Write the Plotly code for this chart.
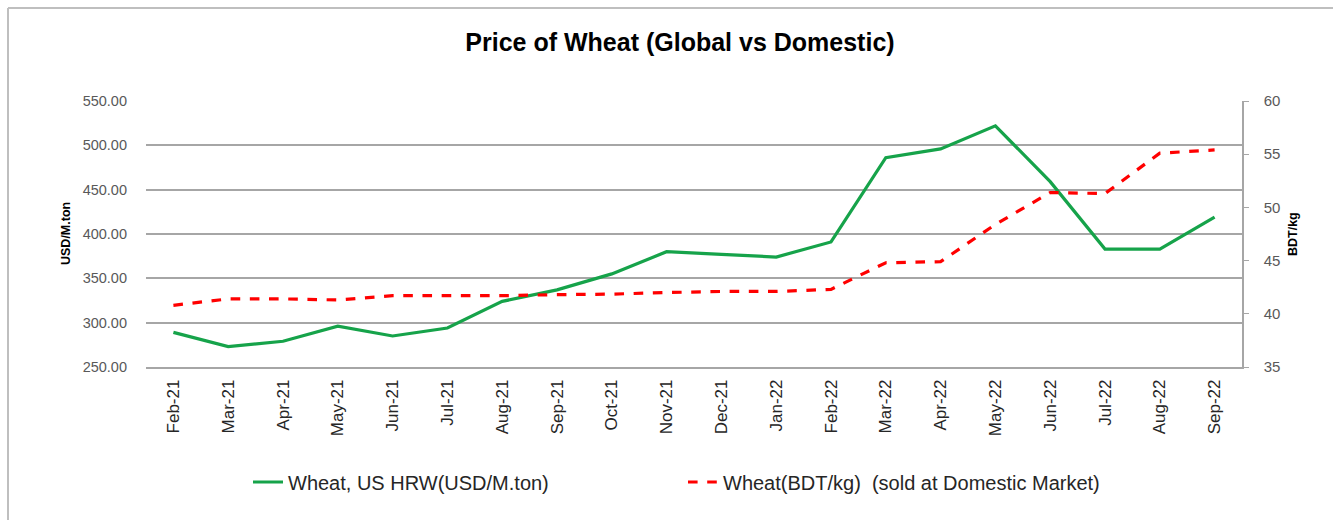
import plotly.graph_objects as go

months = ["Feb-21", "Mar-21", "Apr-21", "May-21", "Jun-21", "Jul-21", "Aug-21", "Sep-21",
          "Oct-21", "Nov-21", "Dec-21", "Jan-22", "Feb-22", "Mar-22", "Apr-22", "May-22",
          "Jun-22", "Jul-22", "Aug-22", "Sep-22"]
global_usd = [289, 273, 279, 296, 285, 294, 324, 337, 355, 380, 377, 374, 391, 486, 496, 522,
              459, 383, 383, 419]
domestic_bdt = [40.8, 41.4, 41.4, 41.3, 41.7, 41.7, 41.7, 41.8, 41.85, 42.0, 42.1, 42.1, 42.3,
                44.8, 44.9, 48.4, 51.4, 51.3, 55.1, 55.4]

name_global = "Wheat, US HRW(USD/M.ton)"
name_dom = "Wheat(BDT/kg)  (sold at Domestic Market)"

W, H = 1333, 520
L, R, T, B = 146, 91, 101, 153
pw, ph = W - L - R, H - T - B

def px_x(p):
    return (p - L) / pw

def px_y(p):
    return (H - B - p) / ph

fig = go.Figure()
fig.add_trace(go.Scatter(x=months, y=global_usd, name=name_global, mode="lines",
                         line=dict(color="#16A34A", width=3.2)))
fig.add_trace(go.Scatter(x=months, y=domestic_bdt, name=name_dom, mode="lines", yaxis="y2",
                         line=dict(color="#FF0000", width=3.2, dash="dash")))

font = "Liberation Sans, Arial, sans-serif"
fig.update_layout(
    width=W, height=H,
    margin=dict(l=L, r=R, t=T, b=B),
    paper_bgcolor="white", plot_bgcolor="white",
    font=dict(family=font, color="#404040"),
    title=dict(text="<b>Price of Wheat (Global vs Domestic)</b>", x=px_x(680), xanchor="center",
               xref="paper", y=1 - 42 / H, yanchor="middle", font=dict(size=25, color="#000000")),
    xaxis=dict(type="category", range=[-0.5, len(months) - 0.5], tickangle=-90, showgrid=False,
               showline=True, linecolor="#A6A6A6", linewidth=1.5, ticks="",
               tickfont=dict(size=17, color="#262626"), ticklabelstandoff=4),
    yaxis=dict(range=[250, 550], dtick=50, tickformat=".2f", showgrid=True,
               gridcolor="#A6A6A6", gridwidth=1.5, zeroline=False, showline=False,
               tickfont=dict(size=14.5, color="#595959"), ticklabelstandoff=18),
    yaxis2=dict(range=[35, 60], dtick=5, overlaying="y", side="right", showgrid=False,
                zeroline=False, showline=True, linecolor="#A6A6A6", linewidth=1.5,
                ticks="outside", ticklen=5, tickcolor="#A6A6A6",
                tickfont=dict(size=15, color="#595959"), ticklabelstandoff=12),
    legend=dict(orientation="h", x=px_x(683), xanchor="center", y=px_y(482), yanchor="middle",
                font=dict(size=20, color="#262626"), tracegroupgap=0,
                entrywidth=390, entrywidthmode="pixels"),
    showlegend=True,
)

fig.add_annotation(text="<b>USD/M.ton</b>", xref="paper", yref="paper", x=px_x(57), y=px_y(234),
                   textangle=-90, showarrow=False, font=dict(size=12.5, color="#000000"))
fig.add_annotation(text="<b>BDT/kg</b>", xref="paper", yref="paper", x=px_x(1302), y=px_y(234),
                   textangle=-90, showarrow=False, font=dict(size=12.5, color="#000000"))

# outer frame (top and left edges)
fig.add_shape(type="line", xref="paper", yref="paper", x0=px_x(8), x1=px_x(W), y0=px_y(8), y1=px_y(8),
              line=dict(color="#BFBFBF", width=2))
fig.add_shape(type="line", xref="paper", yref="paper", x0=px_x(8), x1=px_x(8), y0=px_y(8), y1=px_y(H),
              line=dict(color="#BFBFBF", width=2))

fig.write_html("out.html", config={"displayModeBar": False},
               post_script="document.body.style.margin='0';document.body.style.overflow='hidden';")
